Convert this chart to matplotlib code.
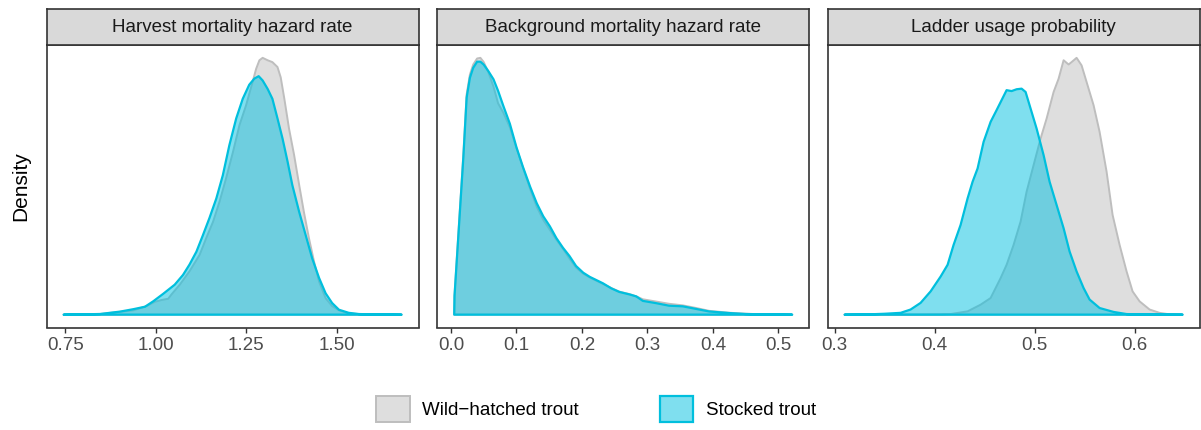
import matplotlib
matplotlib.use("Agg")
import matplotlib.pyplot as plt
from matplotlib.patches import Patch
from matplotlib.colors import to_rgba

plt.rcParams['font.family'] = ['Liberation Sans', 'DejaVu Sans']

# Posterior densities (x = parameter value, y = density)
harvest_x_wild = [0.745, 0.800, 0.846, 0.938, 0.974, 0.997, 1.016, 1.034, 1.043, 1.066,
                  1.093, 1.121, 1.139, 1.158, 1.176, 1.194, 1.213, 1.231, 1.249, 1.267,
                  1.277, 1.286, 1.295, 1.309, 1.322, 1.336, 1.345, 1.355, 1.368, 1.382,
                  1.396, 1.409, 1.423, 1.437, 1.451, 1.469, 1.487, 1.506, 1.533, 1.561,
                  1.600, 1.679]
harvest_y_wild = [0.0, 0.005, 0.011, 0.07, 0.14, 0.21, 0.24, 0.26, 0.33, 0.49,
                  0.71, 0.98, 1.25, 1.52, 1.85, 2.23, 2.66, 3.10, 3.42, 3.80,
                  4.02, 4.16, 4.20, 4.16, 4.13, 4.05, 3.88, 3.53, 3.04, 2.61,
                  2.12, 1.68, 1.25, 0.87, 0.54, 0.27, 0.14, 0.07, 0.02, 0.01,
                  0.005, 0.0]
harvest_x_stock = [0.745, 0.800, 0.846, 0.901, 0.938, 0.970, 0.993, 1.020, 1.052, 1.075,
                   1.093, 1.112, 1.130, 1.148, 1.167, 1.185, 1.203, 1.222, 1.240, 1.258,
                   1.272, 1.284, 1.295, 1.309, 1.322, 1.336, 1.350, 1.364, 1.377, 1.396,
                   1.414, 1.432, 1.451, 1.469, 1.487, 1.506, 1.533, 1.561, 1.600, 1.679]
harvest_y_stock = [0.0, 0.005, 0.011, 0.05, 0.09, 0.13, 0.22, 0.34, 0.49, 0.65,
                   0.82, 1.03, 1.30, 1.58, 1.90, 2.28, 2.77, 3.21, 3.53, 3.76,
                   3.86, 3.90, 3.83, 3.69, 3.53, 3.21, 2.88, 2.50, 2.12, 1.68,
                   1.30, 0.92, 0.60, 0.35, 0.19, 0.08, 0.03, 0.01, 0.005, 0.0]

backgr_x = [0.005, 0.0055, 0.019, 0.024, 0.029, 0.034, 0.040, 0.045, 0.050, 0.057,
            0.065, 0.072, 0.080, 0.090, 0.100, 0.110, 0.121, 0.131, 0.141, 0.151,
            0.161, 0.171, 0.181, 0.191, 0.202, 0.212, 0.222, 0.232, 0.245, 0.257,
            0.273, 0.283, 0.293, 0.313, 0.333, 0.354, 0.374, 0.394, 0.425, 0.450,
            0.475, 0.521]
backgr_y_wild = [0.0, 0.62, 5.02, 6.88, 7.50, 7.81, 8.00, 8.02, 7.89, 7.58,
                 7.12, 6.60, 6.31, 5.85, 5.21, 4.59, 3.92, 3.37, 2.96, 2.65,
                 2.34, 2.06, 1.75, 1.47, 1.28, 1.16, 1.06, 0.96, 0.83, 0.72,
                 0.64, 0.57, 0.48, 0.41, 0.34, 0.29, 0.21, 0.12, 0.06, 0.03,
                 0.01, 0.0]
backgr_y_stock = [0.0, 0.59, 4.92, 6.78, 7.40, 7.71, 7.90, 7.90, 7.81, 7.61,
                  7.35, 6.99, 6.52, 5.96, 5.23, 4.61, 3.99, 3.48, 3.07, 2.76,
                  2.39, 2.09, 1.83, 1.52, 1.31, 1.18, 1.08, 0.98, 0.82, 0.71,
                  0.63, 0.57, 0.43, 0.36, 0.28, 0.26, 0.18, 0.10, 0.05, 0.02,
                  0.01, 0.0]

ladder_x_wild = [0.310, 0.386, 0.405, 0.416, 0.433, 0.446, 0.456, 0.466, 0.472, 0.479,
                 0.486, 0.492, 0.499, 0.506, 0.512, 0.519, 0.524, 0.529, 0.534, 0.537,
                 0.542, 0.547, 0.552, 0.559, 0.565, 0.572, 0.578, 0.585, 0.592, 0.598,
                 0.605, 0.615, 0.625, 0.635, 0.648]
ladder_y_wild = [0.0, 0.0, 0.005, 0.02, 0.11, 0.33, 0.55, 1.21, 1.65, 2.31,
                 3.08, 4.07, 4.95, 5.83, 6.49, 7.37, 7.81, 8.42, 8.28, 8.36,
                 8.50, 8.25, 7.70, 6.93, 6.05, 4.73, 3.30, 2.31, 1.43, 0.77,
                 0.44, 0.17, 0.06, 0.01, 0.0]
ladder_x_stock = [0.310, 0.330, 0.350, 0.366, 0.376, 0.386, 0.396, 0.406, 0.413, 0.419,
                  0.426, 0.433, 0.438, 0.443, 0.449, 0.456, 0.462, 0.467, 0.472, 0.477,
                  0.482, 0.487, 0.491, 0.496, 0.502, 0.509, 0.515, 0.522, 0.529, 0.535,
                  0.542, 0.549, 0.555, 0.565, 0.579, 0.592, 0.610, 0.648]
ladder_y_stock = [0.0, 0.005, 0.03, 0.06, 0.17, 0.39, 0.77, 1.26, 1.65, 2.31,
                  2.97, 3.85, 4.40, 4.84, 5.72, 6.38, 6.77, 7.10, 7.43, 7.40,
                  7.46, 7.48, 7.37, 6.82, 6.16, 5.28, 4.40, 3.63, 2.86, 2.09,
                  1.43, 0.88, 0.50, 0.22, 0.09, 0.02, 0.005, 0.0]

titles = ["Harvest mortality hazard rate", "Background mortality hazard rate",
          "Ladder usage probability"]
ticks = [[0.75, 1.00, 1.25, 1.50], [0.0, 0.1, 0.2, 0.3, 0.4, 0.5], [0.3, 0.4, 0.5, 0.6]]
ticklabels = [["0.75", "1.00", "1.25", "1.50"],
              ["0.0", "0.1", "0.2", "0.3", "0.4", "0.5"],
              ["0.3", "0.4", "0.5", "0.6"]]
groups = ["Wild\u2212hatched trout", "Stocked trout"]

panels = [
    ((harvest_x_wild, harvest_y_wild), (harvest_x_stock, harvest_y_stock)),
    ((backgr_x, backgr_y_wild), (backgr_x, backgr_y_stock)),
    ((ladder_x_wild, ladder_y_wild), (ladder_x_stock, ladder_y_stock)),
]

gray_line = "#BEBEBE"
gray_fill = to_rgba("#BEBEBE", 0.5)
blue_line = "#00BFDD"
blue_fill = to_rgba("#00C0E0", 0.5)
frame = "#333333"

W, H = 1201, 430
fig = plt.figure(figsize=(W / 100, H / 100), dpi=100)

lefts = [46.7, 437.3, 827.7]
width = 371.8
top, bottom = 45, 327.5

for i, ((xw, yw), (xs, ys)) in enumerate(panels):
    ax = fig.add_axes([lefts[i] / W, (H - bottom) / H, width / W, (bottom - top) / H])
    ax.fill(xw, yw, facecolor=gray_fill, edgecolor=gray_line, linewidth=1.4,
            joinstyle="round")
    ax.fill(xs, ys, facecolor=blue_fill, edgecolor=blue_line, linewidth=1.6,
            joinstyle="round")

    xmin = min(min(xw), min(xs))
    xmax = max(max(xw), max(xs))
    ymax = max(max(yw), max(ys))
    pad = 0.05 * (xmax - xmin)
    ax.set_xlim(xmin - pad, xmax + pad)
    ax.set_ylim(-0.05 * ymax, 1.05 * ymax)

    ax.set_xticks(ticks[i])
    ax.set_xticklabels(ticklabels[i])
    ax.set_yticks([])
    ax.tick_params(axis="x", length=3.5, width=1.0, color=frame, pad=3,
                   labelsize=13.5, labelcolor="#4D4D4D")
    for s in ax.spines.values():
        s.set_color(frame)
        s.set_linewidth(1.2)

    # facet strip
    sax = fig.add_axes([lefts[i] / W, (H - top) / H, width / W, 36 / H])
    sax.set_facecolor("#D9D9D9")
    sax.set_xticks([])
    sax.set_yticks([])
    for s in sax.spines.values():
        s.set_color(frame)
        s.set_linewidth(1.2)
    sax.text(0.5, 0.5, titles[i], ha="center", va="center", fontsize=13.5,
             color="#1A1A1A", transform=sax.transAxes)

fig.text(21 / W, 1 - 186 / H, "Density", rotation=90, ha="center", va="center",
         fontsize=15, color="black")

handles = [Patch(facecolor=gray_fill, edgecolor=gray_line, linewidth=1.4),
           Patch(facecolor=blue_fill, edgecolor=blue_line, linewidth=1.6)]
fig.legend(handles, groups, loc="center", bbox_to_anchor=(596 / W, 1 - 409 / H),
           ncol=2, frameon=False, fontsize=13.5, handlelength=1.8, handleheight=1.8,
           handletextpad=0.65, columnspacing=4.3)

fig.savefig("out.png", dpi=100)
